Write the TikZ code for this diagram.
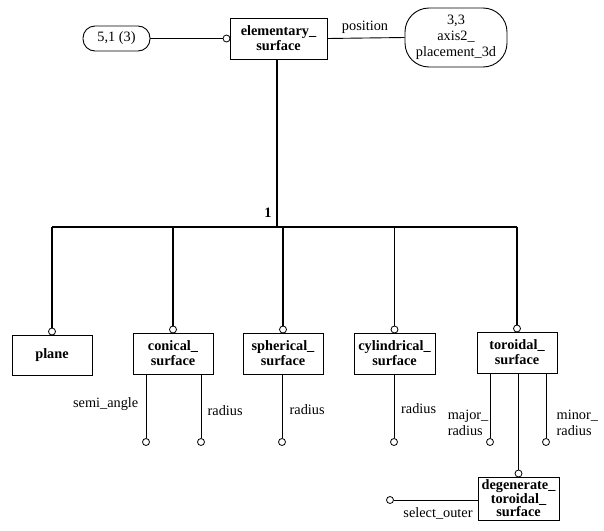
\documentclass[tikz,border=0pt]{standalone}
\usepackage{fontspec}
\setmainfont{Liberation Serif}
\usetikzlibrary{calc}
\begin{document}
\begin{tikzpicture}[x=1pt,y=-1pt,
  ent/.style={draw, line width=0.9pt, inner sep=0pt, align=center, font=\fontsize{14.3}{15}\selectfont\bfseries},
  ref/.style={draw, line width=0.9pt, inner sep=0pt, align=center, font=\fontsize{14.3}{16}\selectfont},
  ring/.style={circle, draw, line width=0.8pt, fill=white, inner sep=0pt, minimum size=7pt},
  lbl/.style={inner sep=0pt, font=\fontsize{14.3}{16}\selectfont},
  thin/.style={line width=0.9pt},
  thick/.style={line width=1.8pt}]
\useasboundingbox (0,0) rectangle (604,530);
% entities
\node[ent, minimum width=97pt, minimum height=41pt] (elem) at (278.5,38.5) {elementary\_\\surface};
\node[ref, minimum width=67pt, minimum height=25pt, rounded corners=12pt] (r51) at (116.5,38.5) {5,1 (3)};
\node[ref, minimum width=102pt, minimum height=59pt, rounded corners=24pt] (r33) at (456,37.5) {3,3\\axis2\_\\placement\_3d};
\node[ent, minimum width=80pt, minimum height=40pt] (plane) at (52,355) {plane};
\node[ent, minimum width=80pt, minimum height=41pt] (con) at (173,353.5) {conical\_\\surface};
\node[ent, minimum width=80pt, minimum height=41pt] (sph) at (283,353.5) {spherical\_\\surface};
\node[ent, minimum width=81pt, minimum height=41pt] (cyl) at (394.5,353.5) {cylindrical\_\\surface};
\node[ent, minimum width=80pt, minimum height=41pt] (tor) at (517,352.5) {toroidal\_\\surface};
\node[ent, minimum width=81pt, minimum height=43pt, font=\fontsize{14.3}{13.5}\selectfont\bfseries] (deg) at (518.5,498.5) {degenerate\_\\toroidal\_\\surface};
% rings
\node[ring] (c51) at (226.5,38.5) {};
\node[ring] (cplane) at (52,331.5) {};
\node[ring] (ccon) at (173,329.5) {};
\node[ring] (csph) at (283,329.5) {};
\node[ring] (ccyl) at (394.5,329.5) {};
\node[ring] (ctor) at (517,328.5) {};
\node[ring] (cdeg) at (518.5,473.5) {};
\node[ring] (ca) at (146,442) {};
\node[ring] (cr) at (201,442) {};
\node[ring] (sr) at (282,442) {};
\node[ring] (cyr) at (394,442) {};
\node[ring] (tmaj) at (490,442) {};
\node[ring] (tmin) at (546,442) {};
\node[ring] (so) at (390,500) {};
\coordinate (hl) at (0,227);
% connectors
\draw[thin] (r51.east) -- (c51);
\draw[thin] (elem.east) -- (r33.west);
\node[lbl] (pos) at (365,27) {position};
\draw[thick] (elem.south -| 277,0) -- (hl -| 277,0);
\draw[thick] (hl -| cplane) -- (hl -| ctor);
\node[lbl, font=\fontsize{14.3}{15}\selectfont\bfseries] (one) at (268,213) {1};
\draw[thick] (hl -| cplane) -- (cplane);
\draw[thick] (hl -| ccon) -- (ccon);
\draw[thick] (hl -| csph) -- (csph);
\draw[thick] (hl -| ccyl) -- (ccyl);
\draw[thick] (hl -| ctor) -- (ctor);
\draw[thick] (tor.south -| cdeg) -- (cdeg);
\draw[thin] (con.south -| ca) -- (ca);
\draw[thin] (con.south -| cr) -- (cr);
\draw[thin] (sph.south -| sr) -- (sr);
\draw[thin] (cyl.south -| cyr) -- (cyr);
\draw[thin] (tor.south -| tmaj) -- (tmaj);
\draw[thin] (tor.south -| tmin) -- (tmin);
\draw[thin] (deg.west |- so) -- (so);
% labels
\node[lbl, anchor=east] (lsa) at (138.5,404) {semi\_angle};
\node[lbl, anchor=west] (lcr) at (207.5,411) {radius};
\node[lbl, anchor=west] (lsr) at (289.5,410) {radius};
\node[lbl, anchor=west] (lcyr) at (401,409) {radius};
\node[lbl, anchor=east, align=left] (lmaj) at (488.5,423) {major\_\\radius};
\node[lbl, anchor=west, align=left] (lmin) at (556.5,423) {minor\_\\radius};
\node[lbl] (lso) at (438,513) {select\_outer};
\end{tikzpicture}
\end{document}
